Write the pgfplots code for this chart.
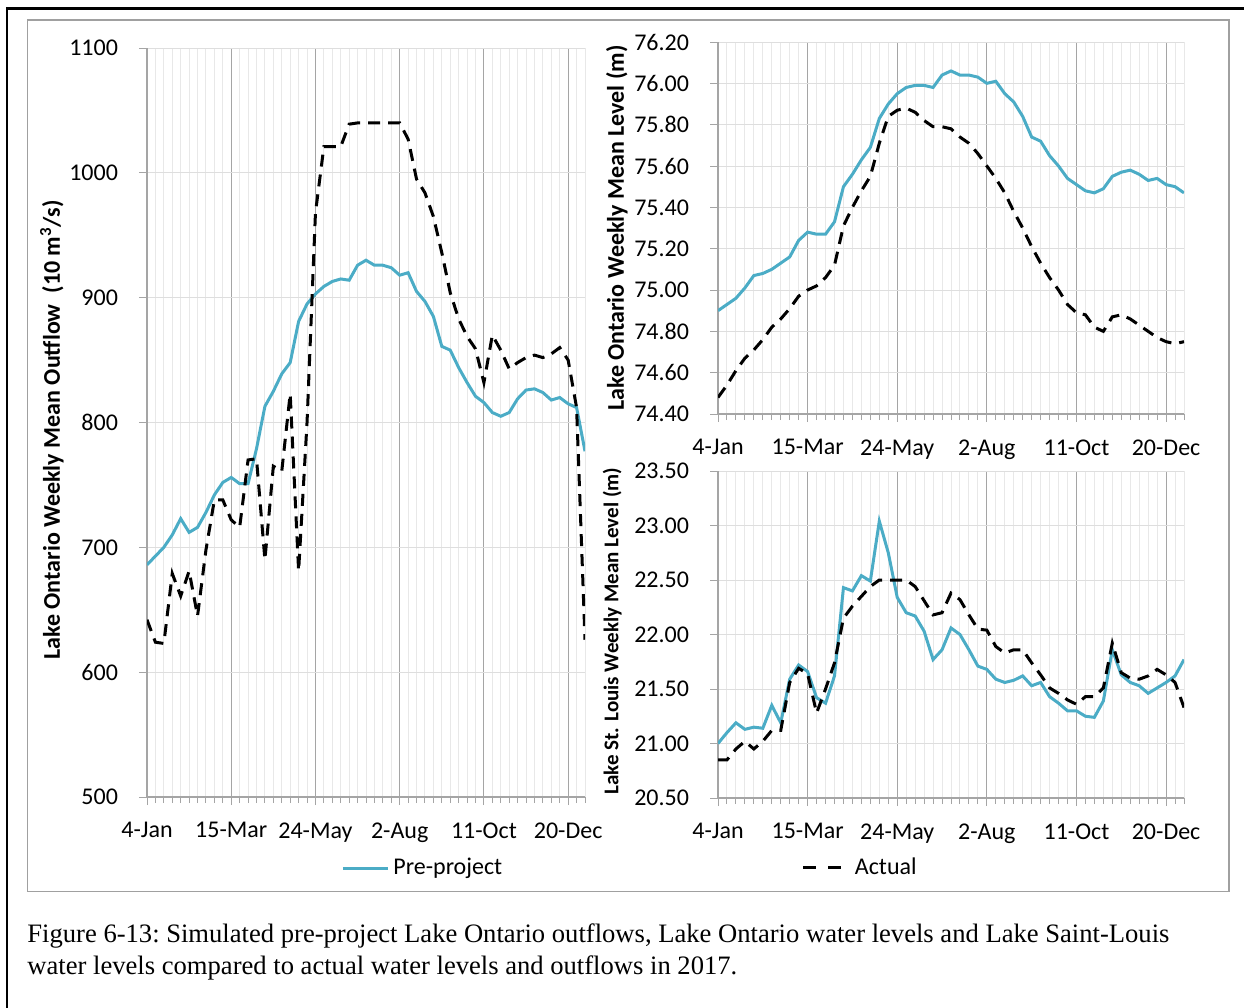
\documentclass[border=0pt]{standalone}
\usepackage{pgfplots}
\pgfplotsset{compat=1.18}
\usepackage{pgfplotstable}
\usepackage{fontspec}
\setmainfont{Carlito}
\newfontfamily\capfont{Liberation Serif}
\definecolor{preblue}{RGB}{75,172,198}
\definecolor{majgrid}{RGB}{165,165,165}
\definecolor{mingrid}{RGB}{232,232,232}
\definecolor{hgrid}{RGB}{222,222,222}
\definecolor{framegray}{RGB}{160,160,160}

\pgfplotstableread{
k pre act
0 686 642
1 693 624
2 700 623
3 710 679
4 723 661
5 712 681
6 716 645
7 728 698
8 742 738
9 752 738
10 756 722
11 751 716
12 751 770
13 779 771
14 813 690
15 825 765
16 839 761
17 848 823
18 881 681
19 895 800
20 903 968
21 909 1021
22 913 1021
23 915 1021
24 914 1039
25 926 1040
26 930 1040
27 926 1040
28 926 1040
29 924 1040
30 918 1040
31 920 1027
32 905 995
33 897 984
34 885 965
35 861 936
36 858 904
37 844 883
38 832 869
39 821 859
40 816 832
41 808 870
42 805 858
43 808 843
44 819 848
45 826 852
46 827 854
47 824 852
48 818 855
49 820 860
50 815 850
51 812 812
52 777 626
}\outflow

\pgfplotstableread{
k pre act
0 74.90 74.48
1 74.93 74.54
2 74.96 74.61
3 75.01 74.67
4 75.07 74.71
5 75.08 74.76
6 75.10 74.82
7 75.13 74.86
8 75.16 74.91
9 75.24 74.97
10 75.28 75.00
11 75.27 75.02
12 75.27 75.06
13 75.33 75.12
14 75.50 75.31
15 75.56 75.40
16 75.63 75.48
17 75.69 75.55
18 75.83 75.71
19 75.90 75.84
20 75.95 75.87
21 75.98 75.88
22 75.99 75.86
23 75.99 75.82
24 75.98 75.79
25 76.04 75.79
26 76.06 75.78
27 76.04 75.74
28 76.04 75.71
29 76.03 75.66
30 76.00 75.60
31 76.01 75.54
32 75.95 75.47
33 75.91 75.38
34 75.84 75.30
35 75.74 75.21
36 75.72 75.13
37 75.65 75.06
38 75.60 75.00
39 75.54 74.93
40 75.51 74.89
41 75.48 74.88
42 75.47 74.82
43 75.49 74.80
44 75.55 74.87
45 75.57 74.88
46 75.58 74.86
47 75.56 74.83
48 75.53 74.80
49 75.54 74.77
50 75.51 74.75
51 75.50 74.74
52 75.47 74.75
}\ontario

\pgfplotstableread{
k pre act
0 21.00 20.85
1 21.10 20.85
2 21.19 20.95
3 21.13 21.02
4 21.15 20.95
5 21.14 21.02
6 21.35 21.12
7 21.19 21.12
8 21.59 21.56
9 21.72 21.69
10 21.66 21.64
11 21.42 21.28
12 21.37 21.50
13 21.62 21.74
14 22.43 22.15
15 22.40 22.26
16 22.54 22.35
17 22.49 22.44
18 23.04 22.50
19 22.75 22.50
20 22.34 22.50
21 22.20 22.50
22 22.17 22.44
23 22.03 22.31
24 21.77 22.18
25 21.86 22.20
26 22.06 22.38
27 22.00 22.32
28 21.86 22.18
29 21.71 22.05
30 21.68 22.04
31 21.59 21.89
32 21.56 21.83
33 21.58 21.86
34 21.62 21.86
35 21.53 21.74
36 21.56 21.63
37 21.43 21.51
38 21.37 21.46
39 21.30 21.40
40 21.30 21.36
41 21.25 21.43
42 21.24 21.43
43 21.39 21.51
44 21.86 21.92
45 21.63 21.65
46 21.56 21.60
47 21.53 21.59
48 21.46 21.62
49 21.51 21.68
50 21.56 21.63
51 21.62 21.56
52 21.77 21.33
}\stlouis

\pgfplotsset{
  common/.style={
    scale only axis,
    xmin=0, xmax=52,
    xtick={0,10,20,30,40,50},
    xticklabels={4-Jan,15-Mar,24-May,2-Aug,11-Oct,20-Dec},
    minor xtick={0,1,...,52},
    axis x line*=bottom, axis y line*=left,
    axis line style={majgrid, line width=0.6bp, -},
    xmajorgrids, xminorgrids, ymajorgrids,
    major x grid style={majgrid, line width=0.5bp},
    minor x grid style={mingrid, line width=0.5bp},
    major y grid style={hgrid, line width=0.5bp},
    tick align=outside,
    major tick length=4bp, minor tick length=3bp,
    tick style={majgrid, line width=0.5bp},
    minor tick style={majgrid, line width=0.5bp},
    tick label style={font=\fontsize{12bp}{14bp}\selectfont},
    /pgf/number format/assume math mode=true,
    xticklabel style={yshift=-5.2bp},
    yticklabel style={xshift=-7bp},
    label style={font=\bfseries\fontsize{12bp}{14bp}\selectfont},
    legend style={draw=none, fill=none, font=\fontsize{12bp}{14bp}\selectfont, anchor=center},
  },
  prestyle/.style={preblue, line width=1.5bp, no markers},
  actstyle/.style={black, line width=1.5bp, dash pattern=on 6bp off 4bp, no markers},
}

\begin{document}
\begin{tikzpicture}
\path[use as bounding box] (0,0) rectangle (622bp,-504bp);
\draw[line width=1.1bp] (3.3bp,-504bp) -- (3.3bp,-4.2bp) -- (622bp,-4.2bp);
\draw[framegray, line width=0.8bp] (13.8bp,-10bp) rectangle (614.6bp,-445.8bp);

% left: outflow
\begin{axis}[common,
  at={(73.5bp,-398.5bp)}, anchor=south west,
  width=219bp, height=374.5bp,
  ymin=500, ymax=1100, ytick={500,600,...,1100},
  yticklabel style={/pgf/number format/1000 sep={}},
  ylabel={Lake Ontario Weekly Mean Outflow\ \ (10 m\textsuperscript{3}/s)},
  ylabel style={at={(axis description cs:-0.217,0.49)}, anchor=center, rotate=0},
  legend style={at={(0.632,-0.0948)}},
  legend image code/.code={\draw[#1] (0bp,0bp) -- (22.5bp,0bp);},
]
\addplot[prestyle] table[x=k, y=pre] {\outflow};
\addlegendentry{Pre-project}
\addplot[actstyle, forget plot] table[x=k, y=act] {\outflow};
\end{axis}

% top right: Lake Ontario level
\begin{axis}[common,
  at={(359bp,-207bp)}, anchor=south west,
  width=233bp, height=186bp,
  ymin=74.4, ymax=76.2,
  ytick={74.4,74.6,74.8,75,75.2,75.4,75.6,75.8,76,76.2},
  yticklabel style={/pgf/number format/.cd, fixed, fixed zerofill, precision=2},
  ylabel={Lake Ontario Weekly Mean Level (m)},
  ylabel style={at={(axis description cs:-0.217,0.5)}, anchor=center},
]
\addplot[prestyle] table[x=k, y=pre] {\ontario};
\addplot[actstyle] table[x=k, y=act] {\ontario};
\end{axis}

% bottom right: Lake St. Louis level
\begin{axis}[common,
  at={(359bp,-399bp)}, anchor=south west,
  width=233bp, height=163.5bp,
  ymin=20.5, ymax=23.5,
  ytick={20.5,21,21.5,22,22.5,23,23.5},
  yticklabel style={/pgf/number format/.cd, fixed, fixed zerofill, precision=2},
  ylabel={Lake St. Louis Weekly Mean Level (m)},
  ylabel style={at={(axis description cs:-0.227,0.51)}, anchor=center, font=\bfseries\fontsize{10.5bp}{12bp}\selectfont},
  legend style={at={(0.316,-0.214)}},
  legend image code/.code={\draw[black, line width=1.5bp, dash pattern=on 6.5bp off 6bp] (0bp,0bp) -- (19bp,0bp);},
  legend style={nodes={inner xsep=6bp}},
]
\addplot[prestyle, forget plot] table[x=k, y=pre] {\stlouis};
\addplot[actstyle] table[x=k, y=act] {\stlouis};
\addlegendentry{Actual}
\end{axis}

\node[anchor=base west, inner sep=0pt, font=\capfont\fontsize{13.3bp}{16bp}\selectfont] at (13.5bp,-471bp) {\frenchspacing Figure 6-13: Simulated pre-project Lake Ontario outflows, Lake Ontario water levels and Lake Saint-Louis};
\node[anchor=base west, inner sep=0pt, font=\capfont\fontsize{13.3bp}{16bp}\selectfont] at (13.5bp,-487bp) {\frenchspacing water levels compared to actual water levels and outflows in 2017.};
\end{tikzpicture}
\end{document}
